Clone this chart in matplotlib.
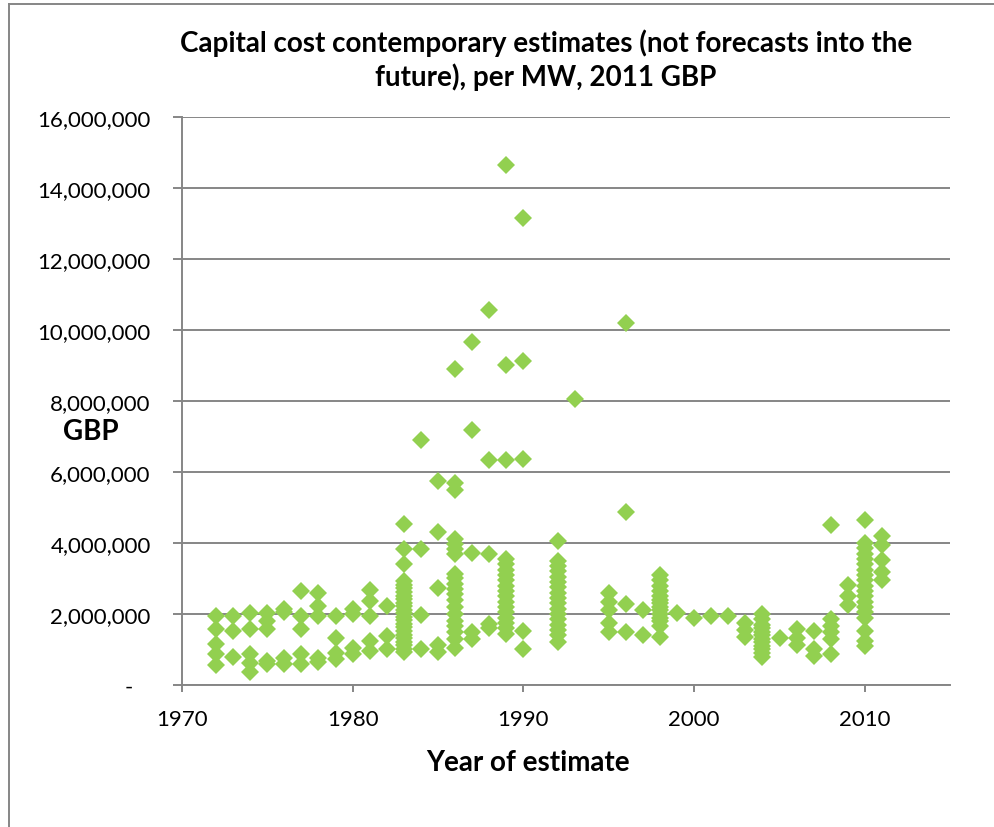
import matplotlib
matplotlib.use("Agg")
import matplotlib.pyplot as plt
from matplotlib.ticker import FuncFormatter, MultipleLocator
from matplotlib.lines import Line2D

plt.rcParams['font.family'] = ['Lato', 'DejaVu Sans']

# year of estimate, capital cost per MW in millions of 2011 GBP
year = (
    [1972] * 5 + [1973] * 3 + [1974] * 5 + [1975] * 5 + [1976] * 4 +
    [1977] * 5 + [1978] * 5 + [1979] * 4 + [1980] * 4 + [1981] * 5 +
    [1982] * 3 + [1983] * 24 + [1984] * 4 + [1985] * 5 + [1986] * 20 +
    [1987] * 5 + [1988] * 5 + [1989] * 18 + [1990] * 5 + [1992] * 17 +
    [1993] * 1 + [1995] * 5 + [1996] * 4 + [1997] * 2 + [1998] * 14 +
    [1999] * 1 + [2000] * 1 + [2001] * 1 + [2002] * 1 + [2003] * 3 +
    [2004] * 12 + [2005] * 1 + [2006] * 3 + [2007] * 3 + [2008] * 6 +
    [2009] * 3 + [2010] * 19 + [2011] * 5
)
cost_m = [
    1.93, 1.57, 1.15, 0.86, 0.56,                      # 1972
    1.94, 1.52, 0.80,                                  # 1973
    2.04, 1.59, 0.86, 0.63, 0.37,                      # 1974
    2.04, 1.80, 1.57, 0.68, 0.58,                      # 1975
    2.15, 2.05, 0.77, 0.58,                            # 1976
    2.65, 1.94, 1.57, 0.86, 0.58,                      # 1977
    2.60, 2.23, 1.94, 0.77, 0.65,                      # 1978
    1.94, 1.33, 0.91, 0.72,                            # 1979
    2.13, 1.99, 1.05, 0.86,                            # 1980
    2.68, 2.37, 1.94, 1.24, 0.96,                      # 1981
    2.23, 1.38, 1.01,                                  # 1982
    4.53, 3.82, 3.40, 2.92, 2.82, 2.72, 2.62, 2.52,    # 1983
    2.42, 2.32, 2.22, 2.12, 2.02, 1.92, 1.82, 1.72,
    1.62, 1.52, 1.42, 1.32, 1.22, 1.12, 1.02, 0.93,
    6.90, 3.82, 1.97, 1.00,                            # 1984
    5.74, 4.30, 2.73, 1.12, 0.93,                      # 1985
    8.90, 5.68, 5.50, 4.10, 3.97, 3.82, 3.68, 3.14,    # 1986
    3.00, 2.85, 2.70, 2.55, 2.40, 2.20, 2.00, 1.80,
    1.65, 1.49, 1.30, 1.05,
    9.65, 7.19, 3.71, 1.50, 1.30,                      # 1987
    10.55, 6.33, 3.69, 1.72, 1.60,                     # 1988
    14.65, 9.02, 6.33, 3.55, 3.40, 3.25, 3.10, 2.95,   # 1989
    2.80, 2.65, 2.50, 2.35, 2.20, 2.05, 1.90, 1.75,
    1.60, 1.45,
    13.15, 9.12, 6.38, 1.52, 1.02,                     # 1990
    4.05, 3.50, 3.35, 3.20, 3.05, 2.90, 2.75, 2.60,    # 1992
    2.45, 2.30, 2.15, 2.00, 1.85, 1.70, 1.55, 1.40,
    1.22,
    8.06,                                              # 1993
    2.60, 2.35, 2.10, 1.76, 1.50,                      # 1995
    10.19, 4.87, 2.29, 1.50,                           # 1996
    2.12, 1.40,                                        # 1997
    3.10, 2.95, 2.80, 2.65, 2.50, 2.40, 2.30, 2.20,    # 1998
    2.10, 2.00, 1.90, 1.80, 1.65, 1.35,
    2.03,                                              # 1999
    1.88,                                              # 2000
    1.93,                                              # 2001
    1.95,                                              # 2002
    1.75, 1.55, 1.35,                                  # 2003
    2.00, 1.85, 1.70, 1.60, 1.50, 1.40, 1.30, 1.20,    # 2004
    1.10, 1.00, 0.90, 0.78,
    1.33,                                              # 2005
    1.57, 1.33, 1.14,                                  # 2006
    1.52, 1.00, 0.81,                                  # 2007
    4.52, 1.86, 1.67, 1.48, 1.29, 0.86,                # 2008
    2.81, 2.52, 2.24,                                  # 2009
    4.65, 4.00, 3.85, 3.70, 3.55, 3.40, 3.25, 3.10,    # 2010
    2.95, 2.80, 2.65, 2.50, 2.35, 2.20, 2.05, 1.90,
    1.52, 1.24, 1.10,
    4.19, 3.95, 3.52, 3.19, 2.95,                      # 2011
]
cost_gbp = [c * 1e6 for c in cost_m]

title = "Capital cost contemporary estimates (not forecasts into the\nfuture), per MW, 2011 GBP"

grey = '#868686'
green = '#92D050'

fig = plt.figure(figsize=(9.94, 8.28), dpi=100)
ax = fig.add_axes([0.183, 0.1715, 0.773, 0.686])

ax.plot(year, cost_gbp, linestyle='none', marker='D', markersize=9.5,
        color=green, markeredgewidth=0)

ax.set_xlim(1970, 2015)
ax.set_ylim(0, 16e6)
ax.xaxis.set_major_locator(MultipleLocator(10))
ax.yaxis.set_major_locator(MultipleLocator(2e6))
ax.yaxis.set_major_formatter(FuncFormatter(
    lambda v, p: '-   ' if v == 0 else '{:,.0f}'.format(v)))

ax.grid(axis='y', color=grey, linewidth=1.4)
ax.set_axisbelow(True)
for s in ('top', 'right'):
    ax.spines[s].set_visible(False)
for s in ('left', 'bottom'):
    ax.spines[s].set_color(grey)
    ax.spines[s].set_linewidth(1.4)
ax.tick_params(axis='y', direction='out', length=6.5, width=1.4, color=grey,
               labelsize=16, pad=16)
ax.tick_params(axis='x', direction='out', length=5, width=1.4, color=grey,
               labelsize=16, pad=12)

# axis titles placed like the original (not centred on the plot area)
fig.text(528 / 994, 1 - 763 / 828, 'Year of estimate', fontsize=20,
         fontweight='bold', ha='center', va='center')
fig.text(91 / 994, 1 - 432 / 828, 'GBP', fontsize=20, fontweight='bold',
         ha='center', va='center')
fig.text(546 / 994, 1 - 60 / 828, title, fontsize=20, fontweight='bold',
         ha='center', va='center', linespacing=1.3)

# chart area border, cut off on the right and bottom like the original
fig.add_artist(Line2D([9 / 994, 9 / 994], [0, 1 - 5 / 828], color=grey, linewidth=1.4,
                      transform=fig.transFigure))
fig.add_artist(Line2D([9 / 994, 1], [1 - 5 / 828, 1 - 5 / 828], color=grey, linewidth=1.4,
                      transform=fig.transFigure))

fig.savefig('out.png', dpi=100)
